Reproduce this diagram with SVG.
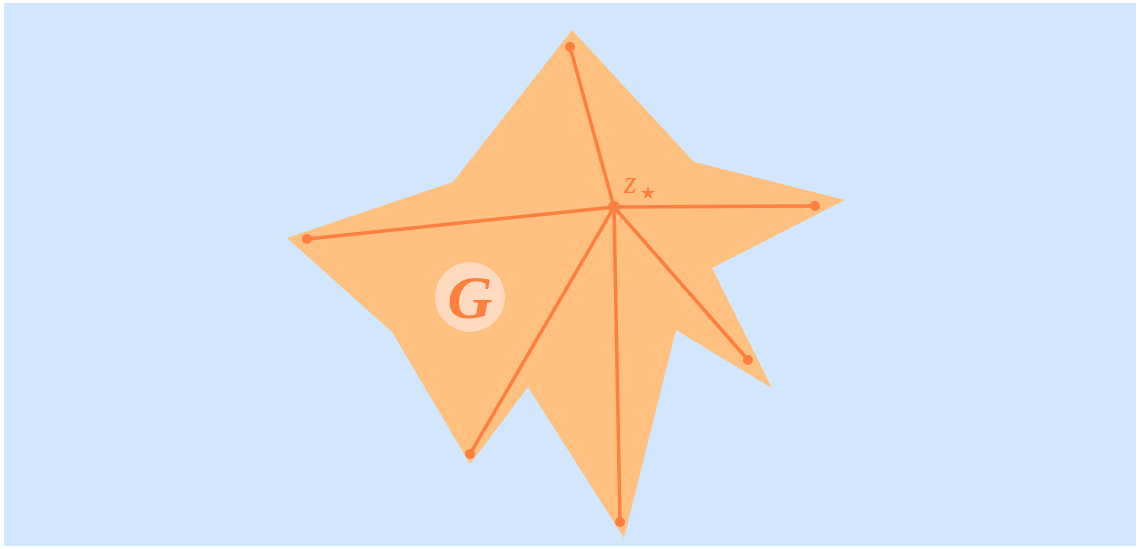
<svg xmlns="http://www.w3.org/2000/svg" width="1140" height="549" viewBox="0 0 1140 549">
<style>
.edge{stroke:#FF7F3F;stroke-width:3.5;fill:none;stroke-linecap:round}
.dot{fill:#FF7F3F}
.lbl{font-family:"Liberation Serif",serif;font-style:italic;fill:#FF7F3F}
</style>
<rect x="4" y="3" width="1132" height="543" fill="#D2E6FE"/>
<g id="region">
<polygon points="572,30 694,162 845,200 712,268 772,388 676,330 624,538 528,387 470,464 392,332 287,238 453,182" fill="#FFC080"/>
</g>
<g id="connectors">
<line class="edge" x1="614" y1="207" x2="570" y2="47"/>
<line class="edge" x1="614" y1="207" x2="815" y2="206"/>
<line class="edge" x1="614" y1="207" x2="307" y2="239"/>
<line class="edge" x1="614" y1="207" x2="748" y2="360"/>
<line class="edge" x1="614" y1="207" x2="620" y2="522"/>
<line class="edge" x1="614" y1="207" x2="470" y2="454"/>
</g>
<g id="center">
<circle class="dot" cx="614" cy="207" r="6"/>
<text class="lbl" x="624" y="193" font-size="32">z</text>
<text x="640" y="199" font-size="18" fill="#FF7F3F" font-family="DejaVu Sans,sans-serif">★</text>
</g>
<g id="n1"><circle class="dot" cx="570" cy="47" r="5"/></g>
<g id="n2"><circle class="dot" cx="815" cy="206" r="5"/></g>
<g id="n3"><circle class="dot" cx="307" cy="239" r="5"/></g>
<g id="n4"><circle class="dot" cx="748" cy="360" r="5"/></g>
<g id="n5"><circle class="dot" cx="620" cy="522" r="5"/></g>
<g id="n6"><circle class="dot" cx="470" cy="454" r="5"/></g>
<g id="G">
<circle cx="470" cy="297" r="35" fill="#FFD9C0"/>
<text class="lbl" x="470" y="318" font-size="62" font-weight="bold" text-anchor="middle">G</text>
</g>
</svg>
